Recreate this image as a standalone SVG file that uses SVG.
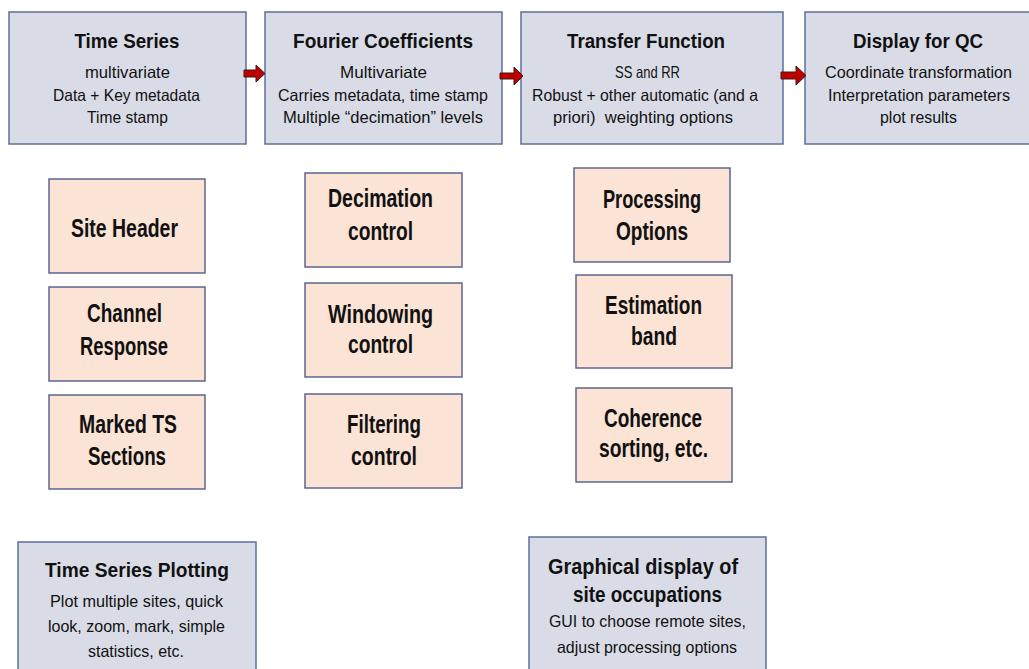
<svg xmlns="http://www.w3.org/2000/svg" width="1029" height="669" viewBox="0 0 1029 669">
<style>
.main{fill:#d9dce6;stroke:#5e6f9c;stroke-width:1.5}
.opt{fill:#fbe3d5;stroke:#5e6690;stroke-width:1.5}
text{font-family:"Liberation Sans",Arial,sans-serif;fill:#111;text-anchor:middle}
.t{font-size:21px;font-weight:bold}
.s{font-size:16.5px}
.b{font-size:25px;font-weight:bold}
.arr{fill:#c00000;stroke:#3a1a1a;stroke-width:1}
</style>
<rect width="1029" height="669" fill="#ffffff"/>

<g id="time-series">
<rect class="main" x="9" y="12" width="237" height="132"/>
<text class="t" x="127" y="48" textLength="105" lengthAdjust="spacingAndGlyphs">Time Series</text>
<text class="s" x="127.5" y="78" textLength="85" lengthAdjust="spacingAndGlyphs">multivariate</text>
<text class="s" x="126.5" y="101" textLength="147" lengthAdjust="spacingAndGlyphs">Data + Key metadata</text>
<text class="s" x="127.5" y="123" textLength="81" lengthAdjust="spacingAndGlyphs">Time stamp</text>
</g>

<g id="fourier-coefficients">
<rect class="main" x="265" y="12" width="237" height="132"/>
<text class="t" x="383" y="48" textLength="180" lengthAdjust="spacingAndGlyphs">Fourier Coefficients</text>
<text class="s" x="383.5" y="78" textLength="87" lengthAdjust="spacingAndGlyphs">Multivariate</text>
<text class="s" x="383" y="101" textLength="210" lengthAdjust="spacingAndGlyphs">Carries metadata, time stamp</text>
<text class="s" x="383" y="123" textLength="200" lengthAdjust="spacingAndGlyphs">Multiple “decimation” levels</text>
</g>

<g id="transfer-function">
<rect class="main" x="521" y="12" width="262" height="132"/>
<text class="t" x="646" y="48" textLength="158" lengthAdjust="spacingAndGlyphs">Transfer Function</text>
<text class="s" x="647.5" y="78" textLength="65" lengthAdjust="spacingAndGlyphs">SS and RR</text>
<text class="s" x="645" y="101" textLength="226" lengthAdjust="spacingAndGlyphs">Robust + other automatic (and a</text>
<text class="s" x="643" y="123" textLength="180" lengthAdjust="spacingAndGlyphs" xml:space="preserve">priori)  weighting options</text>
</g>

<g id="display-qc">
<rect class="main" x="805" y="12" width="230" height="132"/>
<text class="t" x="918" y="48" textLength="130" lengthAdjust="spacingAndGlyphs">Display for QC</text>
<text class="s" x="918.5" y="78" textLength="187" lengthAdjust="spacingAndGlyphs">Coordinate transformation</text>
<text class="s" x="919" y="101" textLength="182" lengthAdjust="spacingAndGlyphs">Interpretation parameters</text>
<text class="s" x="918.5" y="123" textLength="77" lengthAdjust="spacingAndGlyphs">plot results</text>
</g>

<g id="site-header">
<rect class="opt" x="49" y="179" width="156" height="94"/>
<text class="b" x="124.5" y="237" textLength="107" lengthAdjust="spacingAndGlyphs">Site Header</text>
</g>
<g id="channel-response">
<rect class="opt" x="49" y="287" width="156" height="94"/>
<text class="b" x="124.5" y="322" textLength="75" lengthAdjust="spacingAndGlyphs">Channel</text>
<text class="b" x="124" y="355" textLength="88" lengthAdjust="spacingAndGlyphs">Response</text>
</g>
<g id="marked-ts">
<rect class="opt" x="49" y="395" width="156" height="94"/>
<text class="b" x="128" y="433" textLength="98" lengthAdjust="spacingAndGlyphs">Marked TS</text>
<text class="b" x="127" y="465" textLength="78" lengthAdjust="spacingAndGlyphs">Sections</text>
</g>

<g id="decimation-control">
<rect class="opt" x="305" y="173" width="157" height="94"/>
<text class="b" x="380.5" y="207" textLength="105" lengthAdjust="spacingAndGlyphs">Decimation</text>
<text class="b" x="380.5" y="240" textLength="65" lengthAdjust="spacingAndGlyphs">control</text>
</g>
<g id="windowing-control">
<rect class="opt" x="305" y="283" width="157" height="94"/>
<text class="b" x="380.5" y="323" textLength="105" lengthAdjust="spacingAndGlyphs">Windowing</text>
<text class="b" x="380.5" y="353" textLength="65" lengthAdjust="spacingAndGlyphs">control</text>
</g>
<g id="filtering-control">
<rect class="opt" x="305" y="394" width="157" height="94"/>
<text class="b" x="384" y="433" textLength="74" lengthAdjust="spacingAndGlyphs">Filtering</text>
<text class="b" x="384" y="465" textLength="66" lengthAdjust="spacingAndGlyphs">control</text>
</g>

<g id="processing-options">
<rect class="opt" x="574" y="168" width="156" height="94"/>
<text class="b" x="652" y="208" textLength="98" lengthAdjust="spacingAndGlyphs">Processing</text>
<text class="b" x="652" y="240" textLength="72" lengthAdjust="spacingAndGlyphs">Options</text>
</g>
<g id="estimation-band">
<rect class="opt" x="576" y="275" width="156" height="93"/>
<text class="b" x="653.5" y="314" textLength="97" lengthAdjust="spacingAndGlyphs">Estimation</text>
<text class="b" x="654" y="345" textLength="46" lengthAdjust="spacingAndGlyphs">band</text>
</g>
<g id="coherence-sorting">
<rect class="opt" x="576" y="388" width="156" height="94"/>
<text class="b" x="653" y="427" textLength="98" lengthAdjust="spacingAndGlyphs">Coherence</text>
<text class="b" x="653.5" y="457" textLength="109" lengthAdjust="spacingAndGlyphs">sorting, etc.</text>
</g>

<g id="ts-plotting">
<rect class="main" x="18" y="542" width="238" height="140"/>
<text class="t" x="137" y="577" textLength="184" lengthAdjust="spacingAndGlyphs">Time Series Plotting</text>
<text class="s" x="136.5" y="607" textLength="173" lengthAdjust="spacingAndGlyphs">Plot multiple sites, quick</text>
<text class="s" x="136.5" y="632" textLength="177" lengthAdjust="spacingAndGlyphs">look, zoom, mark, simple</text>
<text class="s" x="136" y="657" textLength="96" lengthAdjust="spacingAndGlyphs">statistics, etc.</text>
</g>

<g id="site-occupations">
<rect class="main" x="529" y="537" width="237" height="145"/>
<text class="t" x="643" y="574" textLength="190" lengthAdjust="spacingAndGlyphs" style="font-size:22px">Graphical display of</text>
<text class="t" x="647.5" y="602" textLength="149" lengthAdjust="spacingAndGlyphs" style="font-size:22px">site occupations</text>
<text class="s" x="647.5" y="627" textLength="197" lengthAdjust="spacingAndGlyphs">GUI to choose remote sites,</text>
<text class="s" x="647" y="653" textLength="180" lengthAdjust="spacingAndGlyphs">adjust processing options</text>
</g>

<g id="connectors">
<polygon class="arr" points="244,70 256,70 256,65 265,73.5 256,82 256,77 244,77"/>
<polygon class="arr" points="500,73 514,73 514,67 523,76 514,85 514,79 500,79"/>
<polygon class="arr" points="781,72 796,72 796,66 806,75.5 796,85 796,79 781,79"/>
</g>
</svg>
